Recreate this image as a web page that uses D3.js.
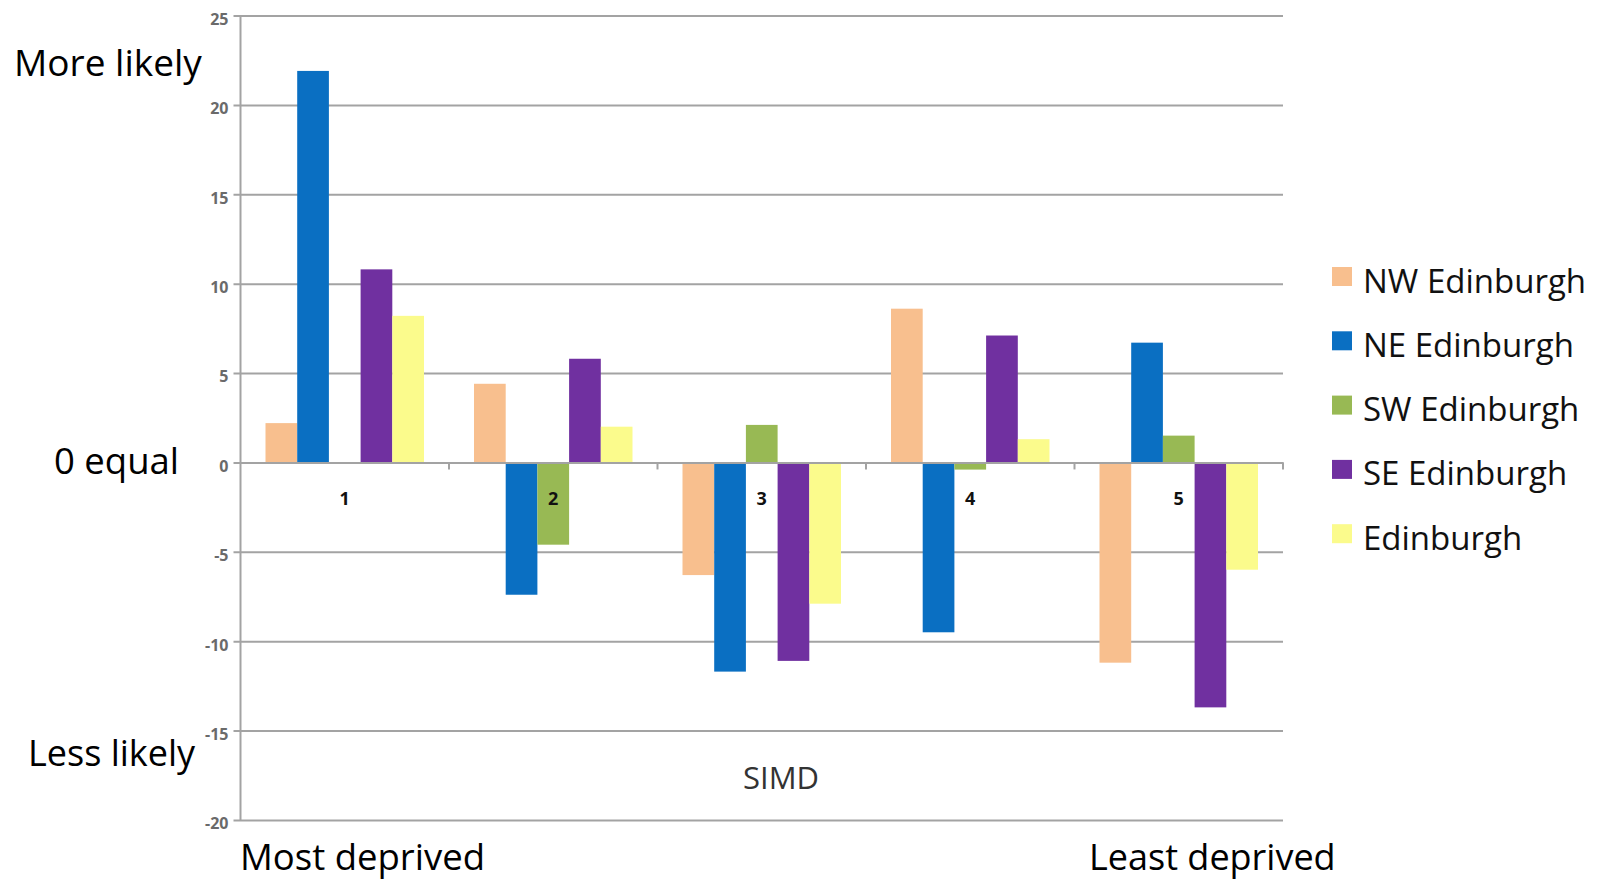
<!DOCTYPE html>
<html>
<head>
<meta charset="utf-8">
<script src="https://cdn.jsdelivr.net/npm/d3@7"></script>
<style>
  html, body { margin: 0; padding: 0; background: #fff; }
  svg { display: block; }
</style>
</head>
<body>
<svg id="chart" width="1599" height="881"></svg>
<script>
const categories = ["1", "2", "3", "4", "5"];
const seriesNames = ["NW Edinburgh", "NE Edinburgh", "SW Edinburgh", "SE Edinburgh", "Edinburgh"];
const seriesColors = ["#F8BF8E", "#0A6FC2", "#98B954", "#7030A0", "#FBFB8C"];
const nwValues = [2.2, 4.4, -6.3, 8.6, -11.2];
const neValues = [21.9, -7.4, -11.7, -9.5, 6.7];
const swValues = [0, -4.6, 2.1, -0.4, 1.5];
const seValues = [10.8, 5.8, -11.1, 7.1, -13.7];
const edValues = [8.2, 2.0, -7.9, 1.3, -6.0];
const yTicks = [25, 20, 15, 10, 5, 0, -5, -10, -15, -20];
const allValues = [nwValues, neValues, swValues, seValues, edValues];

(function () {
const svg = d3.select("#chart");
const plotLeft = 240.5, plotRight = 1283, plotTop = 15.5, plotBottom = 820;
const font = "'Open Sans', 'DejaVu Sans', sans-serif";

const y = d3.scaleLinear().domain([-20, 25]).range([plotBottom, plotTop]);
const x0 = d3.scaleBand().domain(categories).range([plotLeft, plotRight]).padding(0);
const gap = 25;
const x1 = d3.scaleBand().domain(seriesNames).range([gap, x0.bandwidth() - gap]).padding(0);

// gridlines + y ticks
const yAxis = d3.axisLeft(y).tickValues(yTicks).tickSize(-(plotRight - plotLeft)).tickPadding(12).tickFormat(d => String(d));
const gy = svg.append("g").attr("transform", `translate(${plotLeft},0)`).call(yAxis);
gy.select(".domain").remove();
gy.selectAll(".tick line").attr("stroke", "#a3a3a3").attr("stroke-width", 2).attr("x1", -7);
gy.selectAll(".tick text").attr("font-family", font).attr("font-size", 16).attr("font-weight", "bold")
  .attr("fill", "#6a6a6a").attr("dy", "0.55em");

// vertical axis line
svg.append("line").attr("x1", plotLeft).attr("x2", plotLeft).attr("y1", plotTop).attr("y2", plotBottom)
  .attr("stroke", "#a3a3a3").attr("stroke-width", 2);

// bars
const data = [];
categories.forEach((c, i) => seriesNames.forEach((s, j) => data.push({c, s, j, v: allValues[j][i]})));
svg.append("g").selectAll("rect").data(data).join("rect")
  .attr("x", d => x0(d.c) + x1(d.s))
  .attr("width", x1.bandwidth())
  .attr("y", d => y(Math.max(0, d.v)))
  .attr("height", d => Math.abs(y(d.v) - y(0)))
  .attr("fill", d => seriesColors[d.j]);

// zero axis with category ticks
const xAxis = d3.axisBottom(x0).tickSize(0).tickPadding(30);
const gx = svg.append("g").attr("transform", `translate(0,${y(0)})`).call(xAxis);
gx.select(".domain").attr("stroke", "#a3a3a3").attr("stroke-width", 2);
gx.selectAll(".tick text").attr("font-family", font).attr("font-size", 18).attr("font-weight", "bold").attr("fill", "#111");
svg.append("g").selectAll("line").data(categories).join("line")
  .attr("x1", d => x0(d) + x0.bandwidth()).attr("x2", d => x0(d) + x0.bandwidth())
  .attr("y1", y(0)).attr("y2", y(0) + 7)
  .attr("stroke", "#a3a3a3").attr("stroke-width", 2);

// annotations
const ann = svg.append("g").attr("font-family", font).attr("fill", "#000");
ann.append("text").attr("x", 14).attr("y", 76).attr("font-size", 37).text("More likely");
ann.append("text").attr("x", 54).attr("y", 474).attr("font-size", 36.5).text("0 equal");
ann.append("text").attr("x", 28).attr("y", 766).attr("font-size", 36).text("Less likely");
ann.append("text").attr("x", 240).attr("y", 870).attr("font-size", 36.5).text("Most deprived");
ann.append("text").attr("x", 1089).attr("y", 870).attr("font-size", 36).text("Least deprived");
ann.append("text").attr("x", 781).attr("y", 789).attr("font-size", 31).attr("text-anchor", "middle").attr("fill", "#333").text("SIMD");

// legend
const legend = svg.append("g").attr("transform", "translate(1332,267)");
const items = legend.selectAll("g").data(seriesNames).join("g")
  .attr("transform", (d, i) => `translate(0,${i * 64.3})`);
items.append("rect").attr("width", 20).attr("height", 19).attr("fill", (d, i) => seriesColors[i]);
items.append("text").attr("x", 31).attr("y", 25.5).attr("font-family", font).attr("font-size", 33)
  .attr("fill", "#111").text(d => d);
})();
</script>
</body>
</html>
